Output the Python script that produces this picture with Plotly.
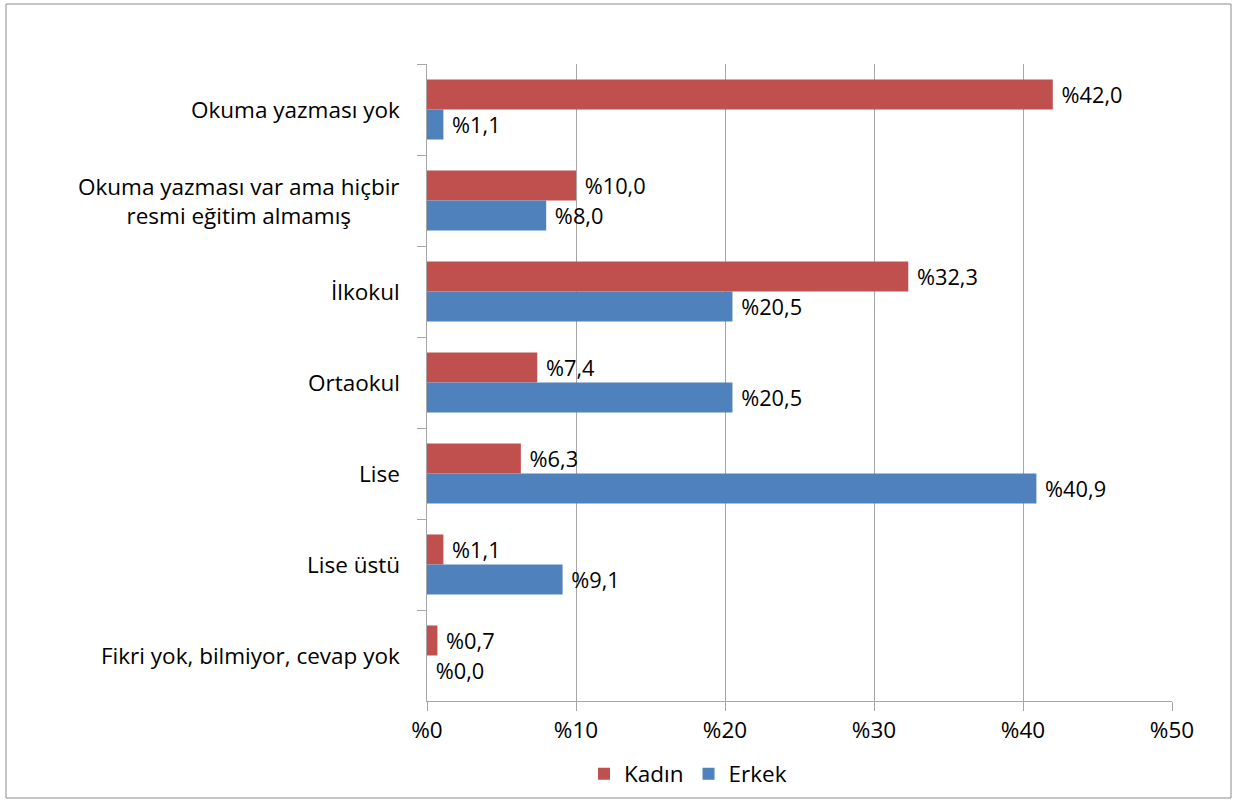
import plotly.graph_objects as go

categories = [
    "Okuma yazması yok",
    "Okuma yazması var ama hiçbir<br>resmi eğitim almamış",
    "İlkokul",
    "Ortaokul",
    "Lise",
    "Lise üstü",
    "Fikri yok, bilmiyor, cevap yok",
]
kadin = [42.0, 10.0, 32.3, 7.4, 6.3, 1.1, 0.7]
erkek = [1.1, 8.0, 20.5, 20.5, 40.9, 9.1, 0.0]
x_ticks = [0, 10, 20, 30, 40, 50]
x_ticktext = ["%" + str(v) for v in x_ticks]

FONT = "Open Sans"
FS = 22.5
L, R, T, B = 427, 1172, 64, 701
W, H = 1249, 800
pw, ph = R - L, B - T

def px(x):
    return (x - L) / pw

def py(y):
    return (B - y) / ph

fig = go.Figure()
fig.add_trace(go.Bar(
    y=categories, x=kadin, name="Kadın", orientation="h",
    marker=dict(color="#C0504D", line=dict(width=0)),
    texttemplate=" %%{x:.1f}", textposition="outside",
    textfont=dict(size=FS, color="black", family=FONT), cliponaxis=False,
))
fig.add_trace(go.Bar(
    y=categories, x=erkek, name="Erkek", orientation="h",
    marker=dict(color="#4F81BD", line=dict(width=0)),
    texttemplate=" %%{x:.1f}", textposition="outside",
    textfont=dict(size=FS, color="black", family=FONT), cliponaxis=False,
))

annotations = []
for c in categories:
    annotations.append(dict(
        x=px(402), xref="paper", y=c, yref="y", text=c, showarrow=False,
        xanchor="right", yanchor="middle", align="center",
        font=dict(size=FS, color="black", family=FONT),
    ))

fig.update_layout(
    width=W, height=H,
    margin=dict(l=L, r=W - R, t=T, b=H - B, autoexpand=False),
    paper_bgcolor="white", plot_bgcolor="white",
    barmode="group", bargap=0.34, bargroupgap=0.0,
    separators=",.",
    font=dict(family=FONT, size=FS, color="black"),
    showlegend=True,
    legend=dict(orientation="h", x=px(688), xanchor="center", y=py(774), yanchor="middle",
                font=dict(size=FS, family=FONT), itemwidth=30, traceorder="normal"),
    annotations=annotations,
    shapes=[dict(type="rect", xref="paper", yref="paper",
                 x0=px(6), x1=px(1231), y0=py(798), y1=py(4),
                 line=dict(color="#8C8C8C", width=1), fillcolor="rgba(0,0,0,0)", layer="below")],
    xaxis=dict(range=[0, 50], tickmode="array", tickvals=x_ticks, ticktext=x_ticktext,
               showgrid=True, gridcolor="#A6A6A6", gridwidth=1, showline=True, linecolor="#A6A6A6",
               ticks="outside", ticklen=9, tickcolor="#A6A6A6", zeroline=False,
               tickfont=dict(size=FS, family=FONT), fixedrange=True),
    yaxis=dict(autorange="reversed", showticklabels=False, showgrid=False,
               showline=True, linecolor="#A6A6A6", ticks="outside", ticklen=9,
               tickcolor="#A6A6A6", tickson="boundaries", zeroline=False),
)

fig.write_html("out.html", config={"displayModeBar": False},
               post_script="document.body.style.margin='0';document.body.style.padding='0';")
